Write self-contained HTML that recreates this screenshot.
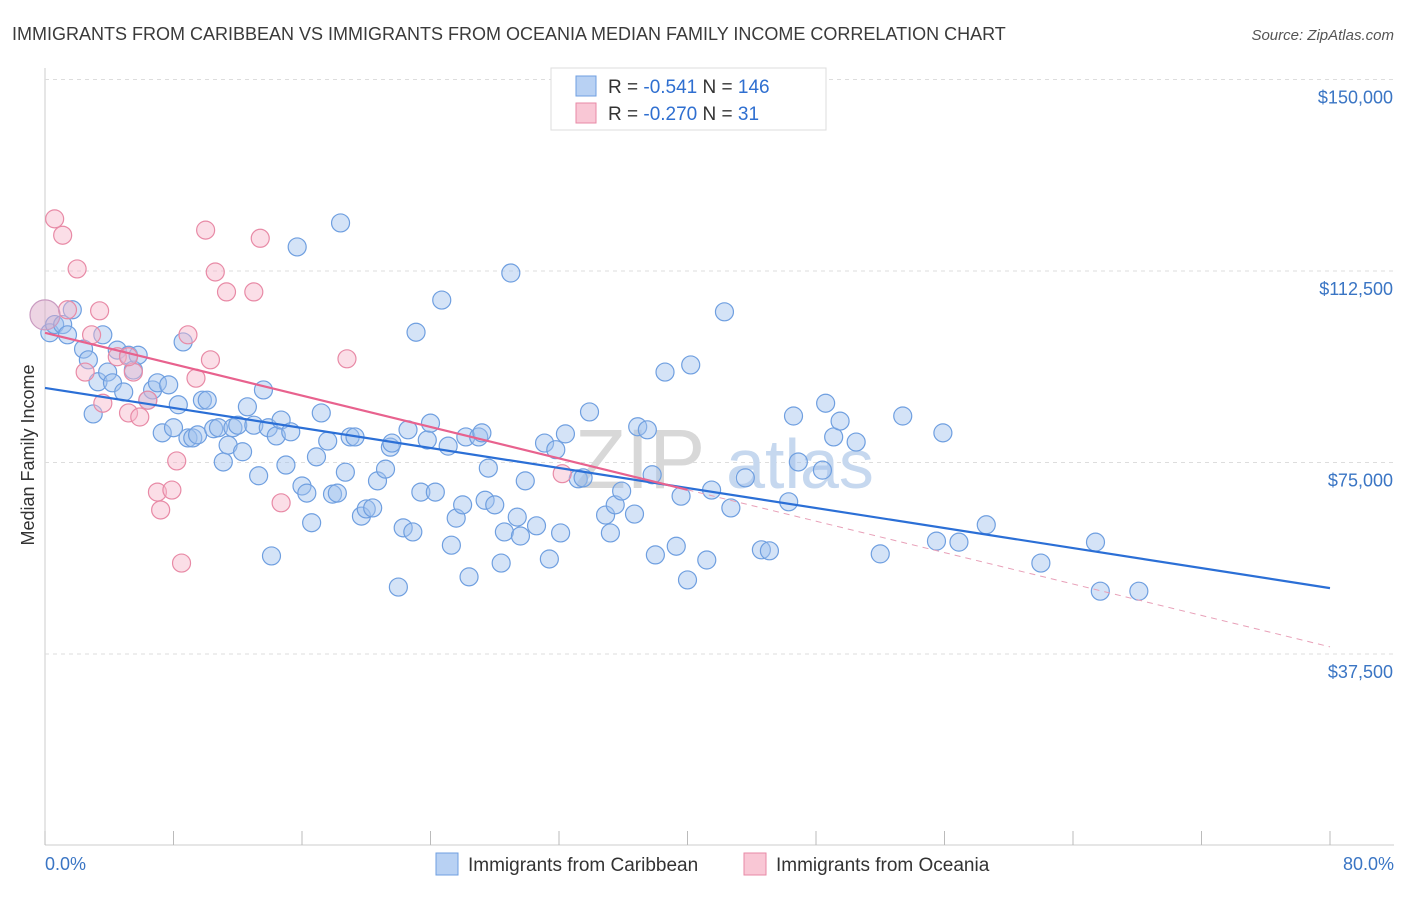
<!DOCTYPE html>
<html><head><meta charset="utf-8"><style>
body{margin:0;background:#fff;font-family:"Liberation Sans",sans-serif}
svg text{font-family:"Liberation Sans",sans-serif}
</style></head><body>
<svg id="chart" width="1406" height="892">
<text x="12" y="40" font-size="18" fill="#3a3a3a">IMMIGRANTS FROM CARIBBEAN VS IMMIGRANTS FROM OCEANIA MEDIAN FAMILY INCOME CORRELATION CHART</text>
<text x="1394" y="40" font-size="15" fill="#555" text-anchor="end" font-style="italic">Source: ZipAtlas.com</text>
<g id="grid"></g>
<g><text x="640" y="488" font-size="84" fill="#d8d8d8" font-family="Liberation Serif" text-anchor="middle">ZIP</text><text x="800" y="488" font-size="70" fill="#c6d8ef" text-anchor="middle">atlas</text></g>
<g id="pts"></g>
<g id="lines"></g>
<text transform="translate(34,455) rotate(-90)" font-size="18" fill="#333" text-anchor="middle">Median Family Income</text>
<text x="45" y="870" font-size="18" fill="#3a75c4">0.0%</text>
<text x="1394" y="870" font-size="18" fill="#3a75c4" text-anchor="end">80.0%</text>
<g>
<rect x="551" y="68" width="275" height="62" fill="#fff" stroke="#ddd"/>
<rect x="576" y="76" width="20" height="20" fill="#b8d1f3" stroke="#6f9fe0"/>
<rect x="576" y="103" width="20" height="20" fill="#f9c7d5" stroke="#e88aa6"/>
<text x="608" y="93" font-size="19" fill="#333">R = <tspan fill="#2f6fd0">-0.541</tspan>   N = <tspan fill="#2f6fd0">146</tspan></text>
<text x="608" y="120" font-size="19" fill="#333">R = <tspan fill="#2f6fd0">-0.270</tspan>   N =   <tspan fill="#2f6fd0"> 31</tspan></text>
</g>
<g>
<rect x="436" y="853" width="22" height="22" fill="#b8d1f3" stroke="#6f9fe0"/>
<text x="468" y="871" font-size="19" fill="#333">Immigrants from Caribbean</text>
<rect x="744" y="853" width="22" height="22" fill="#f9c7d5" stroke="#e88aa6"/>
<text x="776" y="871" font-size="19" fill="#333">Immigrants from Oceania</text>
</g>
</svg>
<script>
const yTicks=[37500,75000,112500,150000];
const yTickLabels=["$37,500","$75,000","$112,500","$150,000"];
const xTicks=[0,8,16,24,32,40,48,56,64,72,80];
const blueX=[0.3,0.6,1.1,1.4,1.7,3.0,3.3,3.6,2.4,2.7,3.9,4.2,4.5,4.9,5.2,5.5,5.8,6.4,6.7,7.0,7.3,7.7,8.0,8.3,8.6,8.9,9.2,9.5,9.8,10.1,10.5,10.8,11.1,11.4,11.7,12.0,12.3,12.6,13.0,13.3,13.6,13.9,14.1,14.4,14.7,15.0,15.3,15.7,16.0,16.3,16.6,16.9,17.2,17.6,17.9,18.2,18.4,18.7,19.0,19.3,19.7,20.0,20.4,20.7,21.2,21.5,21.6,22.0,22.3,22.6,22.9,23.1,23.4,23.8,24.0,24.3,24.7,25.1,25.3,25.6,26.0,26.2,26.4,27.0,27.2,27.4,27.6,28.0,28.4,28.6,29.0,29.4,29.6,29.9,30.6,31.1,31.4,31.8,32.1,32.4,33.2,33.5,33.9,34.9,35.2,35.5,35.9,36.7,36.9,37.5,37.8,38.0,38.6,39.3,39.6,40.0,40.2,41.2,41.5,42.3,42.7,43.6,44.6,45.1,46.3,46.6,46.9,48.4,48.6,49.1,49.5,50.5,52.0,53.4,55.5,55.9,56.9,58.6,62.0,65.4,65.7,68.1];
const blueY=[100.4,102.0,102.0,100.0,104.9,84.5,90.8,100.0,97.2,95.1,92.7,90.6,97.0,88.8,96.0,93.1,96.0,87.2,89.2,90.6,80.8,90.2,81.8,86.3,98.6,79.8,79.8,80.4,87.2,87.2,81.6,81.8,75.1,78.4,81.8,82.3,77.1,85.9,82.3,72.4,89.2,81.8,56.7,80.2,83.3,74.5,81.0,117.2,70.4,69.0,63.2,76.1,84.7,79.2,68.8,69.0,121.9,73.1,80.0,80.0,64.5,65.9,66.1,71.4,73.7,78.0,78.8,50.6,62.2,81.4,61.4,100.5,69.2,79.4,82.7,69.2,106.8,78.2,58.8,64.1,66.7,80.0,52.6,80.0,80.8,67.6,73.9,66.7,55.3,61.4,112.1,64.3,60.6,71.4,62.6,78.8,56.1,77.5,61.2,80.6,71.8,72.0,84.9,64.7,61.2,66.7,69.4,64.9,82.0,81.4,72.6,56.9,92.7,58.6,68.4,52.0,94.1,55.9,69.6,104.5,66.1,72.0,57.9,57.7,67.3,84.1,75.1,73.5,86.6,80.0,83.1,79.0,57.1,84.1,59.6,80.8,59.4,62.8,55.3,59.4,49.8,49.8];
const pinkX=[0.6,1.1,2.0,1.4,3.4,2.9,2.5,3.6,4.5,5.2,5.5,5.9,6.4,7.0,7.2,7.9,8.2,8.5,8.9,9.4,10.0,10.3,10.6,11.3,13.0,13.4,14.7,18.8,32.2,5.2];
const pinkY=[122.7,119.5,112.9,104.9,104.7,100.0,92.7,86.6,95.7,84.7,92.7,83.9,87.2,69.2,65.7,69.6,75.3,55.3,100.0,91.5,120.5,95.1,112.3,108.4,108.4,118.9,67.1,95.3,72.8,95.7];
const pinkBigX=[0.0], pinkBigY=[103.9];
const blueTrend=[89.6,50.4];
const pinkTrend=[100.4,38.9];
const NS="http://www.w3.org/2000/svg";
const X0=45,X1=1330,Y0=845.5,PXPERK=5.107;
const xs=v=>X0+(v/80)*(X1-X0);
const ys=k=>Y0-k*PXPERK;
function mk(tag,attrs,parent){const e=document.createElementNS(NS,tag);for(const k in attrs)e.setAttribute(k,attrs[k]);parent.appendChild(e);return e;}
const grid=document.getElementById('grid');
const ax=mk('line',{x1:45,y1:68,x2:45,y2:845,stroke:'#ccc'},grid);


const bx=mk('line',{x1:45,y1:845,x2:1394,y2:845,stroke:'#ccc'},grid);


yTicks.forEach((t,i)=>{const y=ys(t/1000);
 const g=mk('line',{x1:45,y1:y,x2:1394,y2:y,stroke:'#ddd','stroke-dasharray':'4,4'},grid);
 
 
 const tx=mk('text',{x:1393,y:y+24,'font-size':18,fill:'#3a75c4','text-anchor':'end'},grid);tx.textContent=yTickLabels[i];
 
 });
xTicks.forEach(t=>{const l=mk('line',{x1:xs(t),y1:831,x2:xs(t),y2:845,stroke:'#bbb'},grid);
 
 });
const pts=document.getElementById('pts');
blueX.forEach((v,i)=>{const c=mk('circle',{cx:xs(v),cy:ys(blueY[i]),r:9,fill:'rgba(160,192,238,0.45)',stroke:'#6f9fe0','stroke-width':1.2},pts);
 
 });
pinkX.forEach((v,i)=>{const c=mk('circle',{cx:xs(v),cy:ys(pinkY[i]),r:9,fill:'rgba(246,182,202,0.45)',stroke:'#e88aa6','stroke-width':1.2},pts);
 
 });
pinkBigX.forEach((v,i)=>{const c=mk('circle',{cx:xs(v),cy:ys(pinkBigY[i]),r:15,fill:'rgba(220,170,200,0.5)',stroke:'#c99ac0','stroke-width':1.2},pts);
 
 });
const lines=document.getElementById('lines');
const bl=mk('line',{x1:xs(0),y1:ys(blueTrend[0]),x2:xs(80),y2:ys(blueTrend[1]),stroke:'#2b6fd6','stroke-width':2.2},lines);


const pm=pinkTrend[0]+(pinkTrend[1]-pinkTrend[0])*0.5;
const pl=mk('line',{x1:xs(0),y1:ys(pinkTrend[0]),x2:xs(40),y2:ys(pm),stroke:'#e8628e','stroke-width':2.2},lines);


const pd=mk('line',{x1:xs(40),y1:ys(pm),x2:xs(80),y2:ys(pinkTrend[1]),stroke:'#e8a0b8','stroke-width':1,'stroke-dasharray':'6,5'},lines);


</script>
</body></html>
